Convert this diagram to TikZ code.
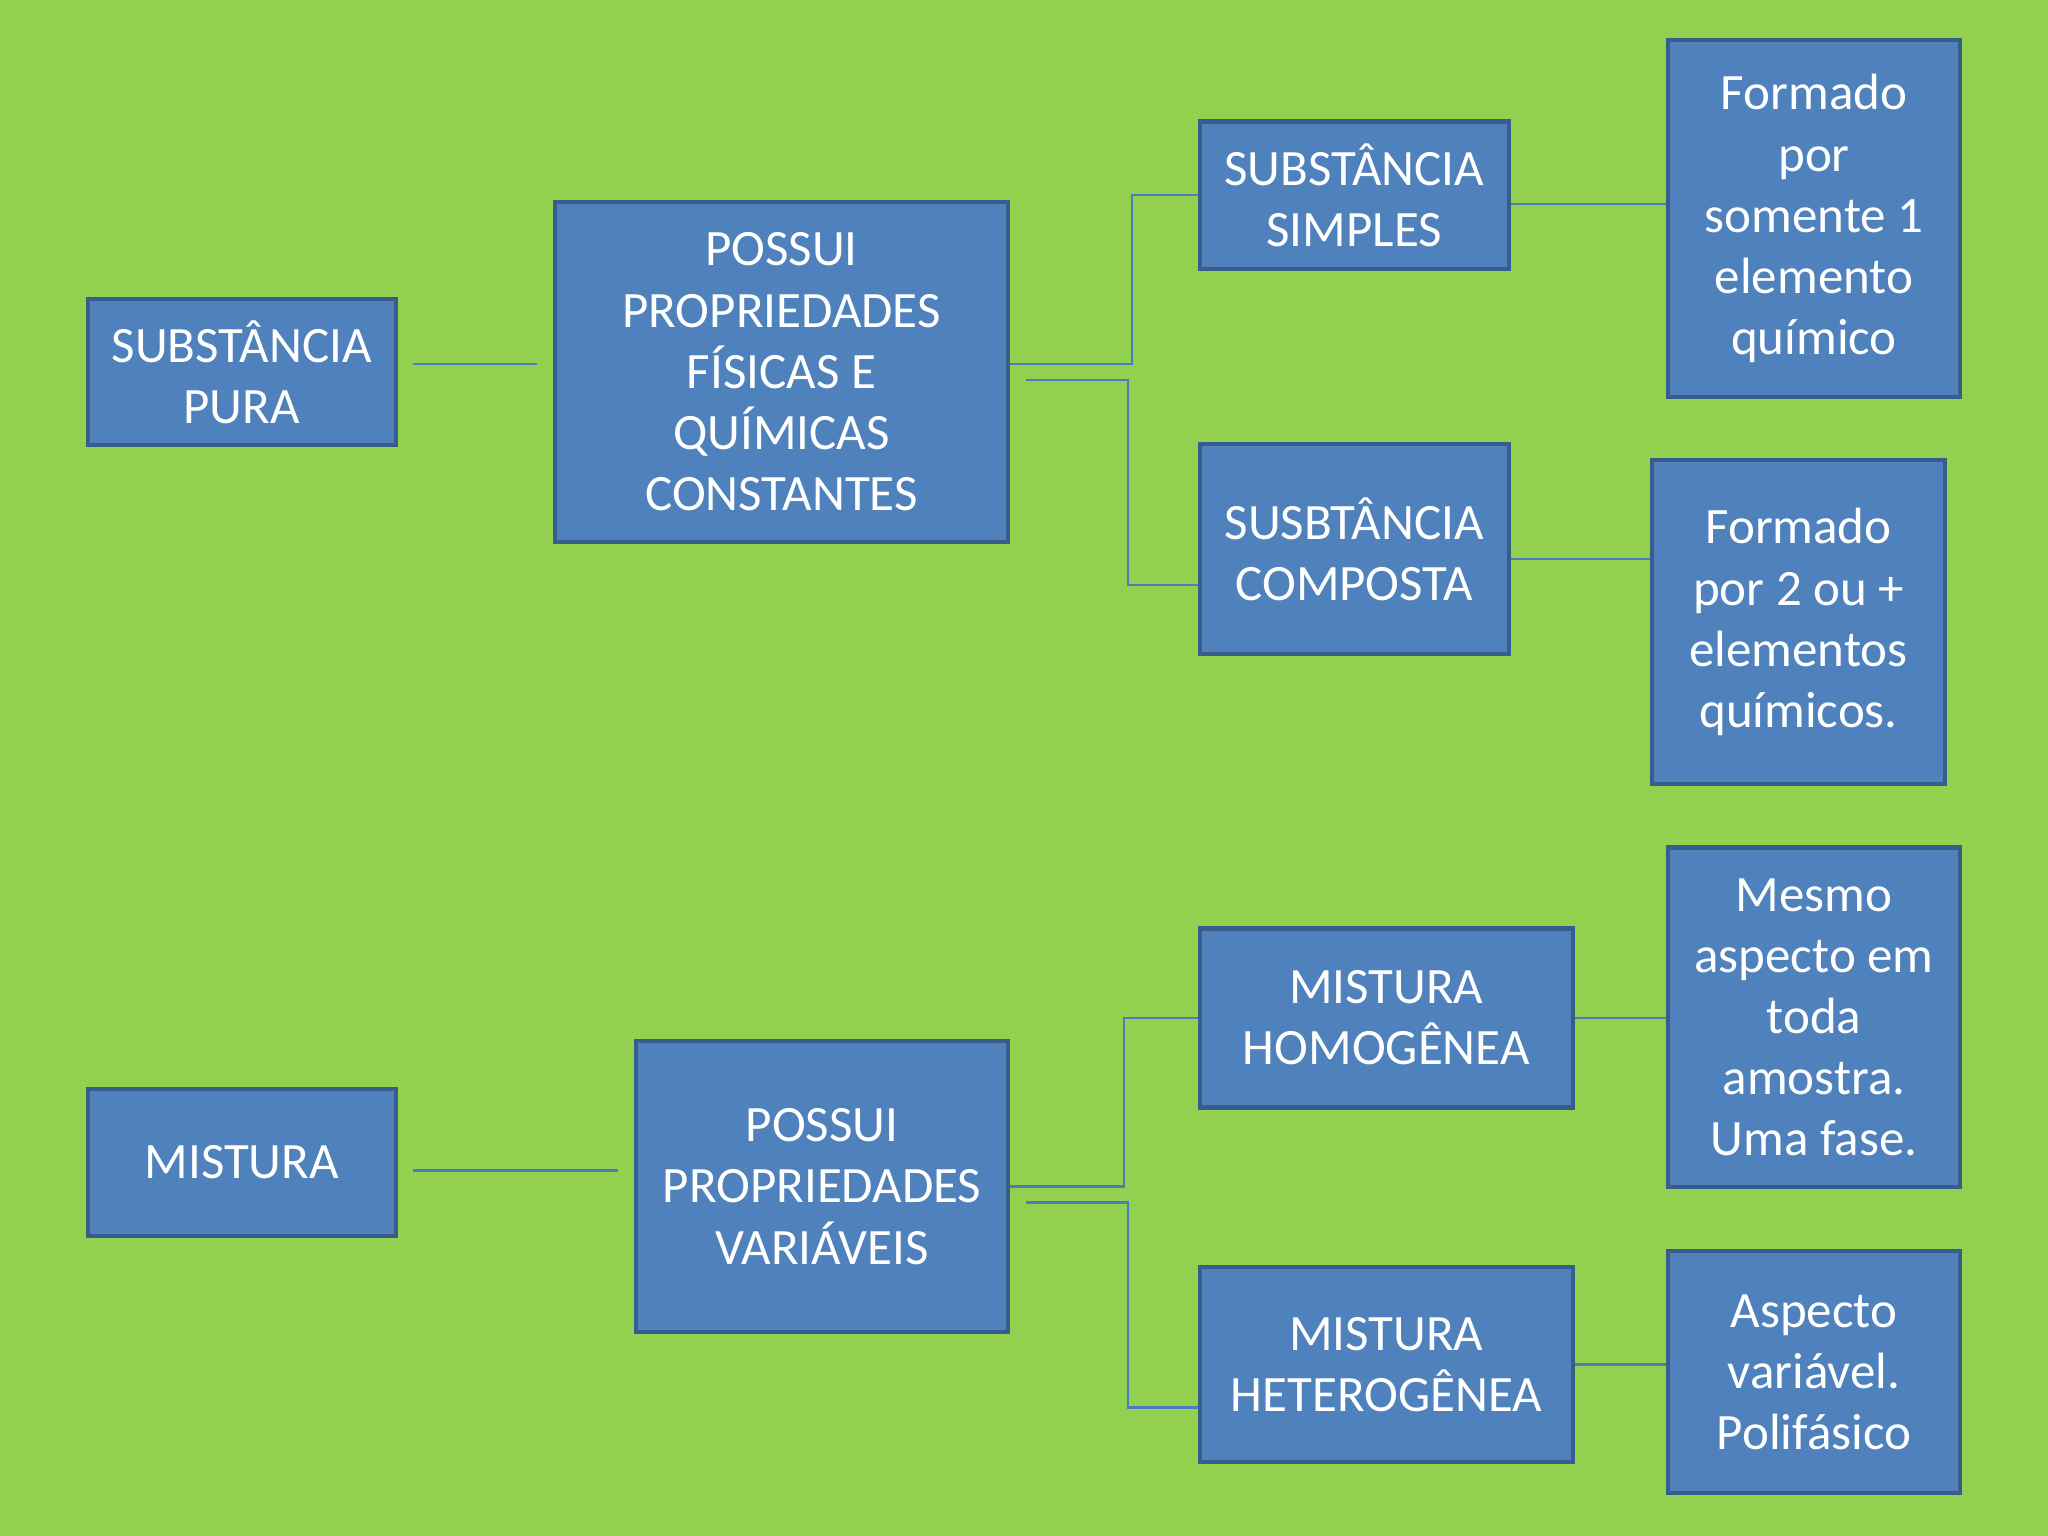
\documentclass[tikz,border=0pt]{standalone}
\usepackage{fontspec}
\setmainfont{Carlito}
\usetikzlibrary{calc}
\definecolor{bggreen}{HTML}{92D050}
\definecolor{boxfill}{HTML}{4F81BD}
\definecolor{boxline}{HTML}{385D8A}
\definecolor{connc}{HTML}{4A7EBB}
\tikzset{
  box/.style={draw=boxline, line width=1.2pt, fill=boxfill, text=white, align=center,
    inner sep=0pt, font=\fontsize{14.5}{17.4}\selectfont},
  conn/.style={draw=connc, line width=0.7pt},
}
\begin{document}
\begin{tikzpicture}[x=0.01cm, y=-0.01cm]
\fill[bggreen] (0,0) rectangle (2048,1536);
\useasboundingbox (0,0) rectangle (2048,1536);

\node[box, minimum width=3.08cm, minimum height=1.46cm] (sp) at (241.7,372) {SUBSTÂNCIA\\PURA};
\node[box, minimum width=4.53cm, minimum height=3.40cm] (p1) at (781.5,372) {POSSUI\\PROPRIEDADES\\FÍSICAS E\\QUÍMICAS\\CONSTANTES};
\node[box, minimum width=3.086cm, minimum height=1.475cm] (ss) at (1354.3,195.2) {SUBSTÂNCIA\\SIMPLES};
\node[box, minimum width=2.92cm, minimum height=3.565cm] (fs) at (1814,218.7) {Formado\\por\\somente 1\\elemento\\químico};
\node[box, minimum width=3.086cm, minimum height=2.10cm] (sc) at (1354.3,549) {SUSBTÂNCIA\\COMPOSTA};
\node[box, minimum width=2.93cm, minimum height=3.24cm] (f2) at (1798.5,622) {Formado\\por 2 ou +\\elementos\\químicos.};

\node[box, minimum width=3.08cm, minimum height=1.466cm] (mi) at (241.7,1162.3) {MISTURA};
\node[box, minimum width=3.72cm, minimum height=2.91cm] (p2) at (822,1186.5) {POSSUI\\PROPRIEDADES\\VARIÁVEIS};
\node[box, minimum width=3.725cm, minimum height=1.79cm] (hom) at (1386.3,1018) {MISTURA\\HOMOGÊNEA};
\node[box, minimum width=3.725cm, minimum height=1.945cm] (het) at (1386.3,1364.3) {MISTURA\\HETEROGÊNEA};
\node[box, minimum width=2.92cm, minimum height=3.394cm] (ms) at (1814,1017.3) {Mesmo\\aspecto em\\toda\\amostra.\\Uma fase.};
\node[box, minimum width=2.92cm, minimum height=2.42cm] (av) at (1814,1372) {Aspecto\\variável.\\Polifásico};

% top connectors
\coordinate (spr) at ($(sp.east)+(0,-8)$);
\draw[conn, shorten <=0.15cm, shorten >=0.16cm] (spr) -- (spr -| p1.west);
\draw[conn] ($(p1.east)+(0,-8)$) -- ++(122,0) |- (ss.west);
\draw[conn] ($(p1.east)+(16,8)$) -- ++(102,0) |- ($(sc.west)+(0,36)$);
\coordinate (ssr) at ($(ss.east)+(0,9)$);
\draw[conn] (ssr) -- (ssr -| fs.west);
\coordinate (scr) at ($(sc.east)+(0,10)$);
\draw[conn] (scr) -- (scr -| f2.west);

% bottom connectors
\coordinate (mir) at ($(mi.east)+(0,8)$);
\draw[conn, shorten <=0.15cm, shorten >=0.16cm] (mir) -- (mir -| p2.west);
\draw[conn] (p2.east) -- ++(114,0) |- (hom.west);
\draw[conn] ($(p2.east)+(16,16)$) -- ++(102,0) |- ($(het.west)+(0,43)$);
\draw[conn] (hom.east) -- (hom.east -| ms.west);
\draw[conn] (het.east) -- (het.east -| av.west);
\end{tikzpicture}
\end{document}
